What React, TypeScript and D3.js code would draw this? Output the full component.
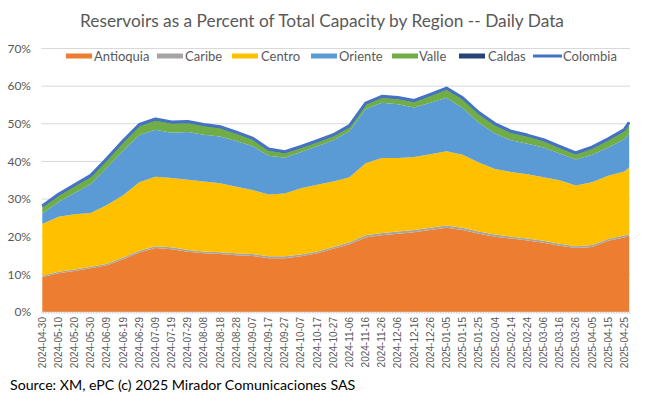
import React from 'react';
import * as d3 from 'd3';

// tick labels on the category axis (every 10th day)
const tickLabels = [
  '2024-04-30', '2024-05-10', '2024-05-20', '2024-05-30', '2024-06-09', '2024-06-19',
  '2024-06-29', '2024-07-09', '2024-07-19', '2024-07-29', '2024-08-08', '2024-08-18',
  '2024-08-28', '2024-09-07', '2024-09-17', '2024-09-27', '2024-10-07', '2024-10-17',
  '2024-10-27', '2024-11-06', '2024-11-16', '2024-11-26', '2024-12-06', '2024-12-16',
  '2024-12-26', '2025-01-05', '2025-01-15', '2025-01-25', '2025-02-04', '2025-02-14',
  '2025-02-24', '2025-03-06', '2025-03-16', '2025-03-26', '2025-04-05', '2025-04-15',
  '2025-04-25',
];

// sampled dates for the series (label dates + last day)
const dates = [...tickLabels, '2025-04-28'];

// % of total national capacity held by each region
const antioquia = [
  9.2, 10.3, 10.9, 11.6, 12.4, 14.0, 15.8, 17.0, 16.7, 16.0, 15.6, 15.4, 15.1, 14.9, 14.3, 14.3,
  14.8, 15.6, 16.8, 18.0, 19.8, 20.4, 20.8, 21.2, 21.8, 22.4, 21.8, 20.8, 20.0, 19.5, 19.0, 18.4,
  17.6, 17.0, 17.3, 18.9, 19.8, 20.2,
];
const caribe = [
  0.4, 0.4, 0.4, 0.4, 0.4, 0.5, 0.5, 0.5, 0.5, 0.5, 0.5, 0.5, 0.5, 0.5, 0.5, 0.5,
  0.5, 0.5, 0.5, 0.5, 0.6, 0.6, 0.6, 0.6, 0.6, 0.6, 0.6, 0.6, 0.6, 0.5, 0.5, 0.5,
  0.5, 0.5, 0.5, 0.5, 0.5, 0.5,
];
const centro = [
  13.8, 14.6, 14.7, 14.3, 15.6, 16.5, 18.2, 18.4, 18.4, 18.6, 18.6, 18.3, 17.7, 17.0, 16.4, 16.7,
  17.6, 17.7, 17.4, 17.3, 19.1, 19.9, 19.5, 19.4, 19.5, 19.7, 19.4, 18.3, 17.4, 17.2, 17.1, 16.9,
  16.9, 16.1, 16.7, 16.8, 17.0, 17.7,
];
const oriente = [
  2.8, 3.9, 5.6, 7.7, 10.0, 11.9, 12.5, 12.5, 12.0, 12.7, 12.4, 12.4, 12.1, 11.7, 10.3, 9.5,
  9.6, 10.2, 10.9, 12.2, 14.4, 14.7, 14.3, 13.1, 13.7, 14.2, 12.4, 10.6, 9.4, 8.4, 8.1, 7.9,
  7.1, 6.9, 7.3, 7.5, 8.6, 9.2,
];
const valle = [
  1.6, 1.7, 1.8, 1.9, 2.0, 2.2, 2.4, 2.5, 2.5, 2.4, 2.3, 2.2, 2.0, 1.7, 1.4, 1.2,
  1.1, 1.1, 1.1, 1.1, 1.2, 1.3, 1.4, 1.5, 1.8, 2.2, 2.3, 2.3, 2.2, 2.0, 1.9, 1.7,
  1.5, 1.4, 1.6, 1.9, 2.2, 2.4,
];
const caldas = [
  0.4, 0.4, 0.4, 0.4, 0.4, 0.4, 0.4, 0.4, 0.4, 0.4, 0.4, 0.4, 0.4, 0.4, 0.4, 0.4,
  0.4, 0.4, 0.4, 0.4, 0.4, 0.4, 0.4, 0.4, 0.4, 0.4, 0.4, 0.4, 0.4, 0.4, 0.4, 0.4,
  0.4, 0.4, 0.4, 0.4, 0.4, 0.4,
];

const regions = ['Antioquia', 'Caribe', 'Centro', 'Oriente', 'Valle', 'Caldas'];
const colors = ['#ED7D31', '#A5A5A5', '#FFC000', '#5B9BD5', '#70AD47', '#264478'];
const lineColor = '#4472C4';

const W = 645;
const H = 397;
const margin = { left: 41.5, right: 630, top: 48.5, bottom: 312 };
const font = 'Lato, "Open Sans", sans-serif';

const parse = d3.utcParse('%Y-%m-%d');

export default function App() {
  const series = [antioquia, caribe, centro, oriente, valle, caldas];
  const rows = dates.map((d, i) => {
    const r: any = { date: parse(d) };
    regions.forEach((k, j) => (r[k] = series[j][i]));
    return r;
  });

  const x = d3
    .scaleUtc()
    .domain([d3.utcHour.offset(rows[0].date, -12), d3.utcHour.offset(rows[rows.length - 1].date, 12)])
    .range([margin.left, margin.right]);
  const y = d3.scaleLinear().domain([0, 70]).range([margin.bottom, margin.top]);

  const stacked = d3.stack().keys(regions)(rows);

  const area = d3
    .area<any>()
    .x((d) => x(d.data.date))
    .y0((d) => y(d[0]))
    .y1((d) => y(d[1]));

  const total = d3
    .line<any>()
    .x((d) => x(d.data.date))
    .y((d) => y(d[1]));

  const yTicks = d3.range(0, 71, 10);

  // legend layout
  const legend = [
    { sx: 66, tx: 94 },
    { sx: 157, tx: 185 },
    { sx: 232, tx: 261 },
    { sx: 311, tx: 339 },
    { sx: 392, tx: 419 },
    { sx: 459, tx: 488 },
  ];

  return (
    <svg width={W} height={H} style={{ position: 'absolute', left: 0, top: 0, background: '#fff' }}>
      <text x={322} y={27} textAnchor="middle" fontFamily={font} fontSize={17.3} fill="#595959">
        Reservoirs as a Percent of Total Capacity by Region -- Daily Data
      </text>

      {/* grid + y axis labels */}
      {yTicks.map((t) => (
        <g key={t}>
          {t > 0 && (
            <line x1={margin.left} x2={margin.right} y1={y(t)} y2={y(t)} stroke="#d9d9d9" strokeWidth={1} />
          )}
          <text x={31} y={y(t)} dy="0.35em" textAnchor="end" fontFamily={font} fontSize={12} fill="#595959">
            {d3.format('.0%')(t / 100)}
          </text>
        </g>
      ))}

      {/* stacked areas */}
      {stacked.map((s, i) => (
        <path key={s.key} d={area(s as any) || ''} fill={colors[i]} />
      ))}

      {/* Colombia total */}
      <path d={total(stacked[stacked.length - 1] as any) || ''} fill="none" stroke={lineColor} strokeWidth={3} strokeLinejoin="round" />

      {/* x axis */}
      <line x1={margin.left} x2={margin.right} y1={margin.bottom + 0.5} y2={margin.bottom + 0.5} stroke="#d0d0d0" strokeWidth={2} strokeDasharray="1,0.6" />
      {tickLabels.map((t) => (
        <text
          key={t}
          transform={`translate(${x(parse(t)!)},317) rotate(-90)`}
          textAnchor="end"
          dy="0.35em"
          fontFamily='"Liberation Sans", Arial, sans-serif'
          fontSize={10}
          fill="#595959"
        >
          {t}
        </text>
      ))}

      {/* legend */}
      {regions.map((r, i) => (
        <g key={r}>
          <rect x={legend[i].sx} y={53.5} width={26} height={5} fill={colors[i]} />
          <text x={legend[i].tx} y={56} dy="0.35em" fontFamily={font} fontSize={13} fill="#595959">
            {r}
          </text>
        </g>
      ))}
      <line x1={533} x2={562} y1={56} y2={56} stroke={lineColor} strokeWidth={3} />
      <text x={563} y={56} dy="0.35em" fontFamily={font} fontSize={13} fill="#595959">
        Colombia
      </text>

      <text x={10} y={390} fontFamily={font} fontSize={14.2} fill="#000">
        Source: XM, ePC (c) 2025 Mirador Comunicaciones SAS
      </text>
    </svg>
  );
}
